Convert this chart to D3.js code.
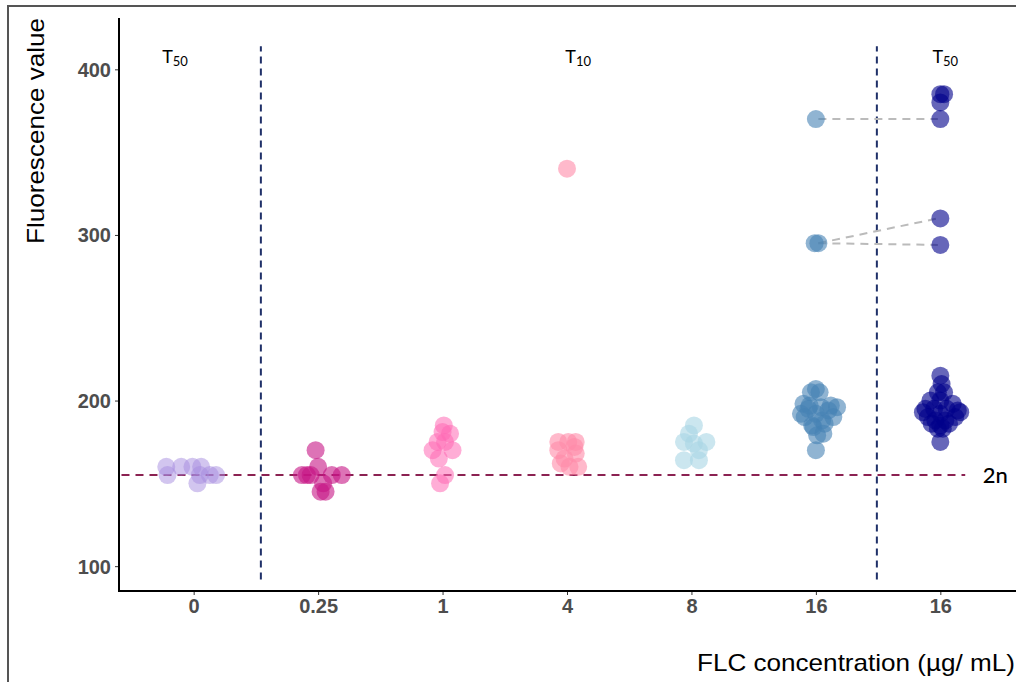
<!DOCTYPE html>
<html>
<head>
<meta charset="utf-8">
<script src="https://cdn.jsdelivr.net/npm/d3@7"></script>
<style>
  body { margin: 0; background: #fff; }
  svg { display: block; }
</style>
</head>
<body>
<svg id="chart" width="1016" height="682"></svg>
<script>
// categories along x (the last "16" is the T50 re-test)
const categories = ["0", "0.25", "1", "4", "8", "16", "16"];
const colors = ["#a58be0", "#c71585", "#ff69b4", "#ff8aa8", "#a9d6e5", "#4682b4", "#00008b"];
const opacities = [0.5, 0.6, 0.55, 0.6, 0.6, 0.6, 0.6];

// fluorescence values and horizontal jitter (in category units) per group
const flc0 = [160, 155, 160, 160, 160, 155, 150, 155, 155];
const flc0Jitter = [-0.22, -0.21, -0.10, -0.01, 0.06, 0.05, 0.03, 0.13, 0.18];
const flc025 = [170, 160, 155, 155, 155, 155, 150, 145, 145, 155];
const flc025Jitter = [-0.02, 0, -0.13, -0.09, 0.11, 0.19, 0.04, 0.02, 0.06, -0.06];
const flc1 = [185, 180, 181, 175, 175, 170, 170, 165, 155, 150];
const flc1Jitter = [0.01, 0.06, 0, -0.04, 0.02, -0.08, 0.08, -0.03, 0.02, -0.02];
const flc4 = [340, 175, 175, 175, 170, 168, 165, 160, 160, 162, 172];
const flc4Jitter = [0, -0.07, 0.01, 0.07, -0.07, 0.07, -0.02, 0.09, 0.02, -0.05, 0.06];
const flc8 = [185, 180, 175, 175, 174, 170, 164, 164];
const flc8Jitter = [0.02, -0.02, -0.06, 0.12, 0.02, 0.06, -0.06, 0.06];
const flc16 = [370, 295, 295, 207, 205, 205, 198, 196, 192, 195, 196, 194, 190, 190, 192, 188, 185, 186, 184, 180, 179, 170, 197, 197];
const flc16Jitter = [0, -0.01, 0.02, 0, -0.04, 0.03, -0.10, 0.17, -0.12, -0.06, 0.04, 0.10, 0.14, -0.09, 0, 0.05, -0.03, 0.07, -0.02, 0.06, 0.01, 0, -0.05, 0.12];
const flc16T50 = [385, 385, 380, 370, 310, 294, 215, 210, 205, 205, 200, 198, 200, 195, 194, 195, 195, 190, 190, 192, 188, 188, 186, 186, 185, 183, 183, 175, 193, 193];
const flc16T50Jitter = [0, 0.03, 0, 0, 0, 0, 0, 0.01, -0.02, 0.03, -0.08, 0.10, 0, -0.12, 0.14, -0.05, 0.05, -0.10, 0.12, 0, -0.04, 0.04, -0.07, 0.07, 0, -0.02, 0.02, 0, -0.14, 0.16];

const groupValues = [flc0, flc025, flc1, flc4, flc8, flc16, flc16T50];
const groupJitter = [flc0Jitter, flc025Jitter, flc1Jitter, flc4Jitter, flc8Jitter, flc16Jitter, flc16T50Jitter];

// paired outliers: value at 16 (T10) -> value at 16 (T50)
const pairsFrom = [370, 295, 295];
const pairsTo = [370, 310, 294];

// reference lines / annotations
const ploidyValue = 155;
const dividers = [0.54, 5.49];
const dividerRange = [92, 414];
const periodLabels = [{pos: -0.15, sub: "50"}, {pos: 3.09, sub: "10"}, {pos: 6.04, sub: "50"}];
const yTicks = [100, 200, 300, 400];

const svg = d3.select("#chart");
const plotLeft = 119, plotRight = 1015, plotTop = 18, plotBottom = 591;

const x = d3.scalePoint()
    .domain(d3.range(categories.length))
    .range([plotLeft, plotRight])
    .padding(0.6);
const step = x.step();
const xPos = (i, off) => x(i) + off * step;

const y = d3.scaleLinear()
    .domain([85, 431])
    .range([plotBottom, plotTop]);

// outer frame
svg.append("path")
    .attr("d", `M8,682 L8,6 L1016,6`)
    .attr("fill", "none")
    .attr("stroke", "#555")
    .attr("stroke-width", 2);

// 2n line
svg.append("line")
    .attr("x1", xPos(0, -0.58))
    .attr("x2", xPos(6, 0.2))
    .attr("y1", y(ploidyValue))
    .attr("y2", y(ploidyValue))
    .attr("stroke", "#8b2252")
    .attr("stroke-width", 2)
    .attr("stroke-dasharray", "8,6");

svg.append("text")
    .attr("x", xPos(6, 0.34))
    .attr("y", y(ploidyValue) + 8)
    .attr("font-family", "Lato, 'Open Sans', sans-serif")
    .attr("font-size", 22)
    .attr("font-weight", 500)
    .attr("fill", "#000")
    .text("2n");

// dividers between T50 and T10
dividers.forEach(d => {
    svg.append("line")
        .attr("x1", xPos(0, d))
        .attr("x2", xPos(0, d))
        .attr("y1", y(dividerRange[0]))
        .attr("y2", y(dividerRange[1]))
        .attr("stroke", "#1f3068")
        .attr("stroke-width", 2)
        .attr("stroke-dasharray", "7,5");
});

// paired connectors
pairsFrom.forEach((v, i) => {
    svg.append("line")
        .attr("x1", xPos(5, 0.02))
        .attr("x2", xPos(6, -0.02))
        .attr("y1", y(v))
        .attr("y2", y(pairsTo[i]))
        .attr("stroke", "#bbbbbb")
        .attr("stroke-width", 2)
        .attr("stroke-dasharray", "8,6");
});

// points
groupValues.forEach((vals, g) => {
    svg.append("g")
        .selectAll("circle")
        .data(vals)
        .join("circle")
        .attr("cx", (v, i) => xPos(g, groupJitter[g][i]))
        .attr("cy", v => y(v))
        .attr("r", 9)
        .attr("fill", colors[g])
        .attr("fill-opacity", opacities[g]);
});

// period labels
periodLabels.forEach(p => {
    const t = svg.append("text")
        .attr("x", xPos(0, p.pos))
        .attr("y", 63)
        .attr("font-family", "Lato, 'Open Sans', sans-serif")
        .attr("font-size", 18)
        .attr("fill", "#000")
        .attr("text-anchor", "middle");
    t.append("tspan").text("T");
    t.append("tspan").attr("font-size", 13).attr("dy", 3).text(p.sub);
});

// axes
const yAxis = svg.append("g")
    .attr("transform", `translate(${plotLeft},0)`)
    .call(d3.axisLeft(y).tickValues(yTicks).tickSize(4).tickSizeOuter(0));
yAxis.select(".domain").remove();
yAxis.append("line")
    .attr("x1", 0).attr("x2", 0)
    .attr("y1", plotTop).attr("y2", plotBottom + 1)
    .attr("stroke", "#000").attr("stroke-width", 2);

const xAxis = svg.append("g")
    .attr("transform", `translate(0,${plotBottom})`)
    .call(d3.axisBottom(x).tickFormat(i => categories[i]).tickSize(4).tickSizeOuter(0));
xAxis.select(".domain").remove();
xAxis.append("line")
    .attr("x1", plotLeft - 1).attr("x2", 1016)
    .attr("y1", 0).attr("y2", 0)
    .attr("stroke", "#000").attr("stroke-width", 2);

[yAxis, xAxis].forEach(a => {
    a.selectAll(".tick line").attr("stroke", "#333");
    a.selectAll(".tick text")
        .attr("font-family", "'Liberation Sans', Arial, sans-serif")
        .attr("font-weight", "bold")
        .attr("font-size", 20)
        .attr("fill", "#4d4d4d");
});
yAxis.selectAll(".tick text").attr("x", -8).attr("dy", "0.35em");
xAxis.selectAll(".tick text").attr("y", 8).attr("dy", "0.71em");

// axis titles
svg.append("text")
    .attr("transform", `translate(44,${131}) rotate(-90)`)
    .attr("text-anchor", "middle")
    .attr("font-family", "'Liberation Sans', Arial, sans-serif")
    .attr("font-size", 24)
    .attr("textLength", 226)
    .attr("lengthAdjust", "spacingAndGlyphs")
    .attr("fill", "#000")
    .text("Fluorescence value");

svg.append("text")
    .attr("x", 1015)
    .attr("y", 671)
    .attr("text-anchor", "end")
    .attr("font-family", "'Liberation Sans', Arial, sans-serif")
    .attr("font-size", 24)
    .attr("textLength", 318)
    .attr("lengthAdjust", "spacingAndGlyphs")
    .attr("fill", "#000")
    .text("FLC concentration (µg/ mL)");
</script>
</body>
</html>
